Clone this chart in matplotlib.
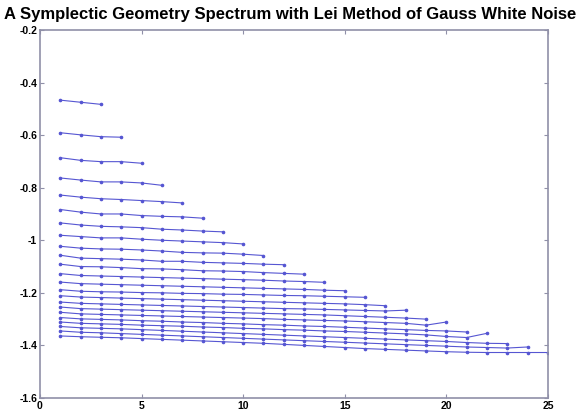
import matplotlib
matplotlib.use('Agg')
import matplotlib.pyplot as plt

# symplectic geometry spectrum, one curve per embedding dimension m = 3..25
m3 = [-0.467, -0.475, -0.483]
m4 = [-0.591, -0.599, -0.606, -0.608]
m5 = [-0.686, -0.696, -0.701, -0.701, -0.707]
m6 = [-0.763, -0.771, -0.778, -0.778, -0.782, -0.791]
m7 = [-0.828, -0.836, -0.842, -0.845, -0.849, -0.853, -0.858]
m8 = [-0.883, -0.893, -0.900, -0.900, -0.906, -0.909, -0.911, -0.916]
m9 = [-0.934, -0.942, -0.947, -0.949, -0.952, -0.958, -0.961, -0.965, -0.968]
m10 = [-0.981, -0.986, -0.991, -0.991, -0.996, -1.000, -1.003, -1.006, -1.009, -1.014]
m11 = [-1.023, -1.030, -1.033, -1.034, -1.037, -1.041, -1.046, -1.048, -1.049, -1.053, -1.058]
m12 = [-1.057, -1.068, -1.070, -1.072, -1.075, -1.080, -1.080, -1.084, -1.086, -1.088, -1.091, -1.093]
m13 = [-1.091, -1.100, -1.101, -1.104, -1.108, -1.109, -1.112, -1.116, -1.117, -1.119, -1.123, -1.126, -1.129]
m14 = [-1.127, -1.134, -1.136, -1.138, -1.140, -1.142, -1.144, -1.146, -1.148, -1.150, -1.152, -1.155, -1.157,
       -1.160]
m15 = [-1.159, -1.165, -1.167, -1.169, -1.171, -1.173, -1.175, -1.177, -1.179, -1.181, -1.183, -1.185, -1.187,
       -1.190, -1.192]
m16 = [-1.188, -1.194, -1.196, -1.197, -1.199, -1.200, -1.202, -1.203, -1.205, -1.206, -1.208, -1.210, -1.211,
       -1.213, -1.215, -1.217]
m17 = [-1.211, -1.216, -1.218, -1.220, -1.222, -1.224, -1.226, -1.228, -1.230, -1.232, -1.234, -1.236, -1.238,
       -1.240, -1.242, -1.245, -1.249]
m18 = [-1.235, -1.240, -1.242, -1.244, -1.246, -1.248, -1.250, -1.252, -1.254, -1.256, -1.258, -1.260, -1.261,
       -1.263, -1.265, -1.267, -1.269, -1.266]
m19 = [-1.254, -1.260, -1.262, -1.264, -1.266, -1.268, -1.270, -1.272, -1.274, -1.276, -1.278, -1.280, -1.282,
       -1.284, -1.287, -1.290, -1.293, -1.296, -1.300]
m20 = [-1.274, -1.280, -1.282, -1.284, -1.286, -1.288, -1.290, -1.292, -1.294, -1.296, -1.298, -1.301, -1.303,
       -1.305, -1.307, -1.310, -1.313, -1.316, -1.323, -1.311]
m21 = [-1.294, -1.299, -1.301, -1.303, -1.306, -1.308, -1.311, -1.313, -1.316, -1.318, -1.321, -1.323, -1.326,
       -1.328, -1.331, -1.334, -1.337, -1.340, -1.343, -1.345, -1.349]
m22 = [-1.311, -1.316, -1.318, -1.320, -1.323, -1.325, -1.327, -1.330, -1.332, -1.335, -1.337, -1.340, -1.342,
       -1.345, -1.347, -1.350, -1.353, -1.356, -1.360, -1.366, -1.370, -1.354]
m23 = [-1.328, -1.333, -1.335, -1.337, -1.340, -1.343, -1.346, -1.349, -1.352, -1.355, -1.358, -1.361, -1.364,
       -1.367, -1.370, -1.373, -1.376, -1.379, -1.382, -1.385, -1.389, -1.392, -1.393]
m24 = [-1.345, -1.350, -1.352, -1.355, -1.358, -1.361, -1.364, -1.367, -1.370, -1.373, -1.376, -1.379, -1.382,
       -1.385, -1.388, -1.391, -1.394, -1.397, -1.400, -1.403, -1.406, -1.408, -1.410, -1.406]
m25 = [-1.364, -1.367, -1.369, -1.371, -1.374, -1.377, -1.380, -1.383, -1.386, -1.389, -1.392, -1.396, -1.400,
       -1.404, -1.408, -1.412, -1.415, -1.418, -1.421, -1.424, -1.426, -1.427, -1.427, -1.427, -1.427]

spectra = [m3, m4, m5, m6, m7, m8, m9, m10, m11, m12, m13, m14, m15, m16, m17, m18, m19, m20,
           m21, m22, m23, m24, m25]

xticks = [0, 5, 10, 15, 20, 25]
yticks = [-1.6, -1.4, -1.2, -1, -0.8, -0.6, -0.4, -0.2]
ylabels = ['-1.6', '-1.4', '-1.2', '-1', '-0.8', '-0.6', '-0.4', '-0.2']

plt.rcParams['font.family'] = ['Liberation Sans', 'DejaVu Sans']

fig = plt.figure(figsize=(5.81, 4.16), dpi=100)
ax = fig.add_axes([0.0688, 0.0433, 0.8742, 0.8847])

for s in spectra:
    ax.plot(range(1, len(s) + 1), s, color='#5656d2', lw=0.8, marker='.', ms=3.2)

ax.set_xlim(0, 25)
ax.set_ylim(-1.6, -0.2)
ax.set_xticks(xticks)
ax.set_xticklabels([str(t) for t in xticks], fontweight='bold', fontsize=7.5)
ax.set_yticks(yticks)
ax.set_yticklabels(ylabels, fontweight='bold', fontsize=7.5)
ax.tick_params(direction='in', length=3, color='#9090a8', top=True, right=True, pad=2)
for sp in ax.spines.values():
    sp.set_color('#9090a8')
    sp.set_linewidth(1.2)

fig.text(0.5, 0.966, 'A Symplectic Geometry Spectrum with Lei Method of Gauss White Noise',
         ha='center', va='center', fontsize=12, fontweight='bold')

fig.savefig('out.png', dpi=100)
